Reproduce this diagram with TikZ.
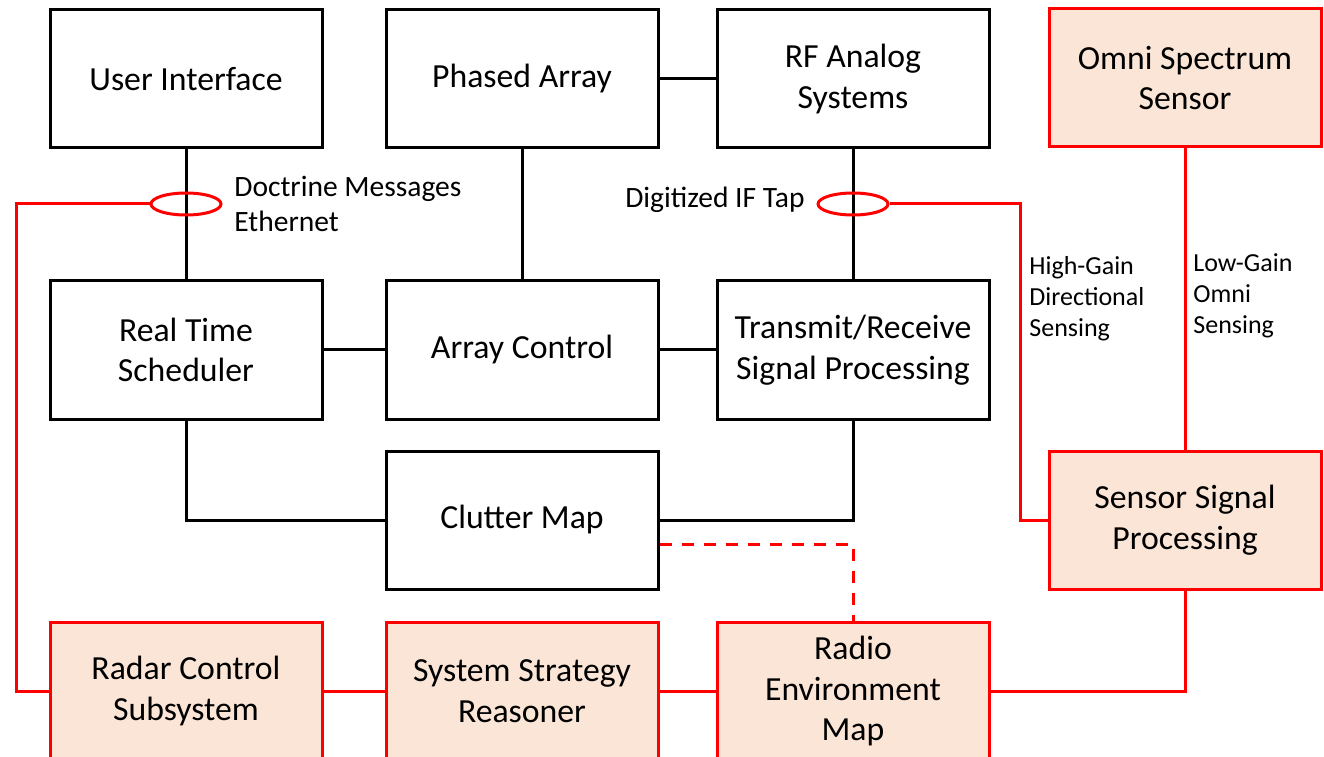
\documentclass[tikz,border=0pt]{standalone}
\usepackage{fontspec}
\setmainfont{Carlito}
\usetikzlibrary{shapes.geometric,calc}
\definecolor{peach}{HTML}{FBE5D6}
\tikzset{block/.style={draw,line width=0.06cm,minimum width=5.44cm,minimum height=2.76cm,align=center,font=\fontsize{19.2}{23.2}\selectfont}}
\tikzset{redblock/.style={block,draw=red,fill=peach}}
\tikzset{link/.style={line width=0.06cm}}
\tikzset{redlink/.style={link,red}}
\tikzset{tap/.style={ellipse,draw=red,line width=0.06cm,minimum width=1.4cm,minimum height=0.44cm,inner sep=0pt}}
\tikzset{tag/.style={align=left,inner sep=0pt,font=\fontsize{16.8}{19.9}\selectfont}}
\tikzset{smalltag/.style={align=left,inner sep=0pt,font=\fontsize{14.8}{17.6}\selectfont}}

\begin{document}
\begin{tikzpicture}
    \useasboundingbox (0,0) rectangle (26.48,15.12);
    \node [block] (ui) at (3.72,13.54) {User Interface};
    \node [block] (pa) at (10.44,13.54) {Phased Array};
    \node [block] (rf) at (17.06,13.54) {RF Analog\\Systems};
    \node [redblock] (omni) at (23.70,13.56) {Omni Spectrum\\Sensor};
    \node [block] (rts) at (3.72,8.12) {Real Time\\Scheduler};
    \node [block] (ac) at (10.44,8.12) {Array Control};
    \node [block] (tr) at (17.06,8.12) {Transmit/Receive\\Signal Processing};
    \node [block] (cm) at (10.44,4.72) {Clutter Map};
    \node [redblock] (ssp) at (23.70,4.72) {Sensor Signal\\Processing};
    \node [redblock] (rcs) at (3.72,1.30) {Radar Control\\Subsystem};
    \node [redblock] (ssr) at (10.44,1.30) {System Strategy\\Reasoner};
    \node [redblock] (rem) at (17.06,1.30) {Radio\\Environment\\Map};
    \draw [link] (ui) -- (rts);
    \draw [link] (pa) -- (ac);
    \draw [link] (pa) -- (rf);
    \draw [link] (rf) -- (tr);
    \draw [link] (rts) -- (ac);
    \draw [link] (ac) -- (tr);
    \draw [link] (rts.south) |- (cm.west);
    \draw [link] (tr.south) |- (cm.east);
    \node [tap] (dtap) at (3.72,11.04) {};
    \node [tap] (iftap) at (17.06,11.04) {};
    \coordinate (wbus) at (0.32,11.04);
    \coordinate (ebus) at (20.40,11.04);
    \node [tag,anchor=west] (dlabel) at (4.68,11.05) {Doctrine Messages\\Ethernet};
    \node [tag,anchor=east] (iflabel) at (16.10,11.12) {Digitized IF Tap};
    \node [smalltag,anchor=west] (hglabel) at (20.58,9.14) {High-Gain\\Directional\\Sensing};
    \node [smalltag,anchor=west] (lglabel) at (23.86,9.20) {Low-Gain\\Omni\\Sensing};
    \draw [redlink] (dtap.west) -- (wbus) |- (rcs.west);
    \draw [redlink] (iftap.east) -- (ebus) |- (ssp.west);
    \draw [redlink] (omni) -- (ssp);
    \draw [redlink] (ssp.south) |- (rem.east);
    \draw [redlink] (rcs) -- (ssr);
    \draw [redlink] (ssr) -- (rem);
    \draw [redlink,dash pattern=on 0.24cm off 0.2cm] ($(cm.east)+(0,-0.48)$) -| (rem.north);
\end{tikzpicture}
\end{document}
